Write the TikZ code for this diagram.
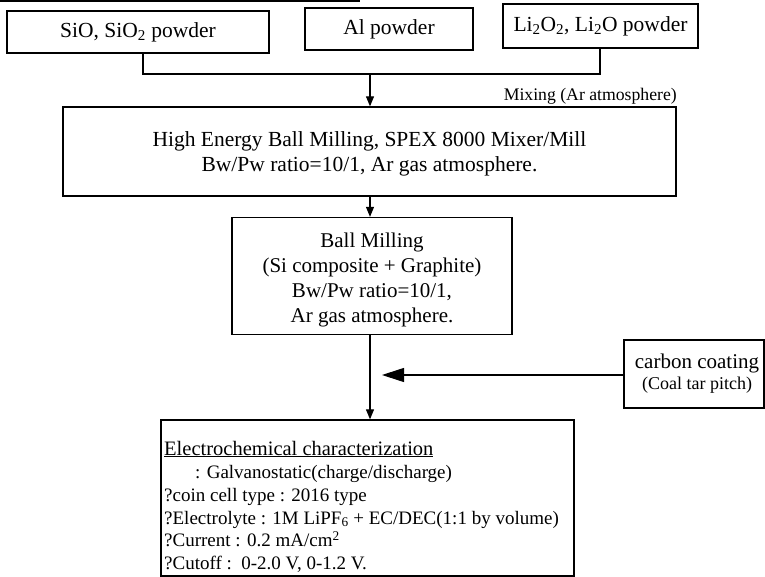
\documentclass[tikz,border=0pt]{standalone}
\usepackage{fontspec}
\setmainfont{Liberation Serif}
\usetikzlibrary{arrows.meta}
\begin{document}
\begin{tikzpicture}[x=1pt,y=-1pt,
  box/.style={draw, line width=1.3pt, inner sep=0pt, align=center},
  txt/.style={inner sep=0pt},
  link/.style={line width=1.1pt},
  smallarrow/.style={line width=1.1pt, -{Triangle[length=10pt,width=8pt]}},
  bigarrow/.style={line width=1.1pt, -{Triangle[length=22pt,width=14pt]}},
  bigfont/.style={font=\fontsize{21.5}{25}\selectfont},
  elecfont/.style={font=\fontsize{19}{22}\selectfont}]
\useasboundingbox (0,0) rectangle (765,577);
% scan edge at top
\draw[line width=3pt] (0,1) -- (360,1);
% top boxes
\node[box, bigfont, minimum width=262pt, minimum height=42pt] (b1) at (138,32) {SiO, SiO\textsubscript{2} powder};
\node[box, bigfont, minimum width=168pt, minimum height=42pt] (b2) at (389,29) {Al powder};
\node[box, bigfont, minimum width=195pt, minimum height=44pt] (b3) at (600.5,26) {Li\textsubscript{2}O\textsubscript{2}, Li\textsubscript{2}O powder};
% bracket
\coordinate (j1) at (143,74);
\coordinate (j2) at (600,74);
\coordinate (m) at (370,74);
\draw[link] (b1.south -| j1) -- (j1) -- (j2) -- (b3.south -| j2);
% high energy box
\node[box, minimum width=613pt, minimum height=89pt] (hem) at (369.5,151.5) {};
\node[txt, bigfont, align=center] (hemtext) at (369.5,154)
  {High Energy Ball Milling, SPEX 8000 Mixer/Mill\\Bw/Pw ratio=10/1, Ar gas atmosphere.};
\draw[smallarrow] (m) -- (hem.north -| m);
\node[txt, font=\fontsize{17.7}{20}\selectfont, anchor=east] (mix) at (677,96) {Mixing (Ar atmosphere)};
% ball milling
\node[box, minimum width=280pt, minimum height=117pt] (ball) at (372,276) {};
\node[txt, font=\fontsize{21}{24.7}\selectfont, align=center] (balltext) at (372,280)
  {Ball Milling\\(Si composite + Graphite)\\Bw/Pw ratio=10/1,\\Ar gas atmosphere.};
\draw[smallarrow] (hem.south -| m) -- (ball.north -| m);
% carbon coating
\node[box, minimum width=140pt, minimum height=68pt] (carb) at (694,374) {};
\node[txt, font=\fontsize{21}{24}\selectfont] (carb1) at (697,363) {carbon coating};
\node[txt, font=\fontsize{18}{20}\selectfont] (carb2) at (697,385) {(Coal tar pitch)};
\coordinate (tip) at (382,375);
\draw[bigarrow] (carb.west |- tip) -- (tip);
% electrochemical box
\node[box, minimum width=413pt, minimum height=156pt] (elec) at (367.5,498) {};
\draw[smallarrow] (ball.south -| m) -- (elec.north -| m);
\node[txt, font=\fontsize{20.5}{22}\selectfont, anchor=base west] (e1) at (164,455) {\underline{Electrochemical characterization}};
\node[txt, elecfont, anchor=base west] (e2) at (195,478) {: Galvanostatic(charge/discharge)};
\node[txt, elecfont, anchor=base west] (e3) at (164,501) {?coin cell type : 2016 type};
\node[txt, elecfont, anchor=base west] (e4) at (164,524) {?Electrolyte : 1M LiPF\textsubscript{6} + EC/DEC(1:1 by volume)};
\node[txt, elecfont, anchor=base west] (e5) at (164,546.5) {?Current : 0.2 mA/cm\textsuperscript{2}};
\node[txt, elecfont, anchor=base west] (e6) at (164,569) {?Cutoff :\ \ 0-2.0 V, 0-1.2 V.};
\end{tikzpicture}
\end{document}
